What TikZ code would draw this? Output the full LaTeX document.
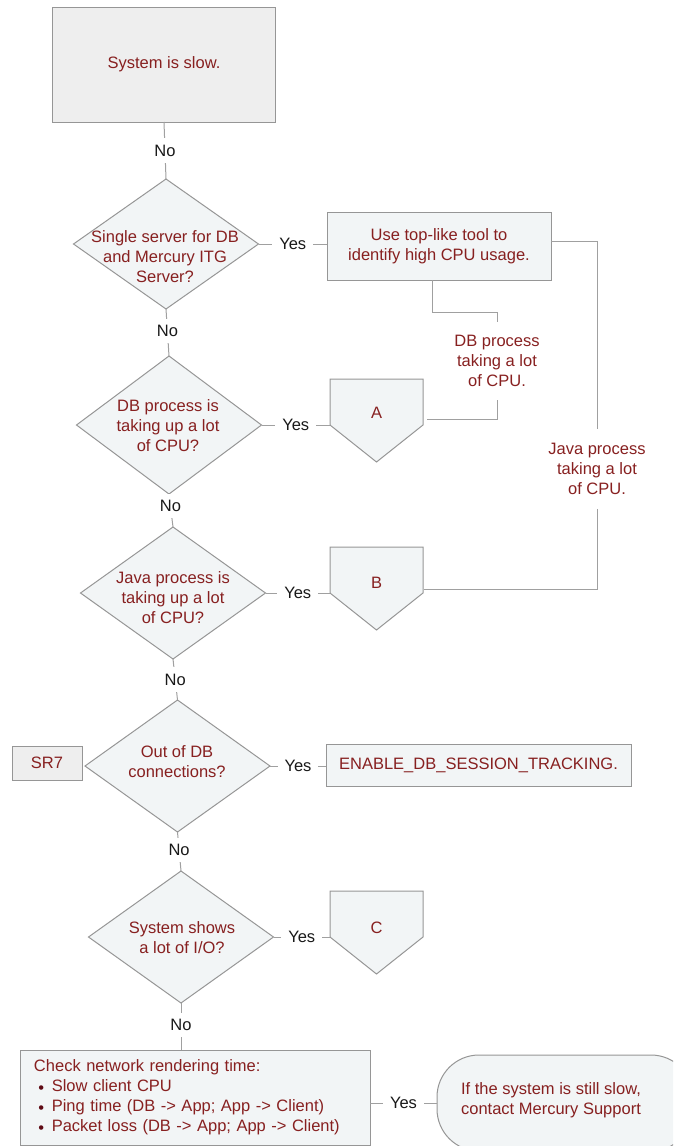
\documentclass[tikz,border=0pt]{standalone}
\usepackage{fontspec}
\setmainfont{Liberation Sans}
\usetikzlibrary{shapes.geometric}

\definecolor{ink}{RGB}{135,32,32}
\definecolor{dotink}{RGB}{95,10,20}
\definecolor{edge}{RGB}{150,150,150}
\definecolor{wire}{RGB}{160,160,160}
\definecolor{paleblue}{RGB}{242,245,246}
\definecolor{palegray}{RGB}{238,238,238}
\definecolor{labelink}{RGB}{25,25,25}

\newcommand{\netitem}{\hspace*{4.5pt}\raisebox{-2pt}{\textcolor{dotink}{\textbullet}}\hspace{7.5pt}}

\begin{document}
\begin{tikzpicture}[x=1pt,y=-1pt,
  every node/.style={font=\fontsize{16.5}{20}\selectfont, outer sep=0pt},
  box/.style={draw=edge, line width=1pt, fill=paleblue, text=ink, align=center, inner sep=0pt},
  graybox/.style={box, fill=palegray},
  decision/.style={diamond, draw=edge, line width=1pt, fill=paleblue, inner sep=0pt,
    minimum width=185pt, minimum height=132pt},
  qtext/.style={text=ink, align=center, inner sep=0pt},
  flag/.style={rectangle, draw=none, minimum width=93pt, minimum height=83pt, inner sep=0pt},
  flagline/.style={draw=edge, line width=1pt, fill=paleblue, line join=miter},
  conn/.style={draw=wire, line width=1pt},
  ans/.style={fill=white, text=labelink, inner xsep=7pt, inner ysep=6.5pt},
]
\useasboundingbox (0,0) rectangle (673,1146);
\clip (0,0) rectangle (673,1146);

% --- main column of checks ---
\node[graybox, minimum width=223pt, minimum height=115pt] (start) at (164,64.5) {System is slow.};

\node[decision, minimum height=130pt] (q1) at (166,244) {};
\node[qtext] (q1t) at (165,257) {Single server for DB\\and Mercury ITG\\Server?};

\node[decision, minimum height=138pt] (q2) at (169,425) {};
\node[qtext] (q2t) at (168,426) {DB process is\\taking up a lot\\of CPU?};

\node[decision] (q3) at (173,593) {};
\node[qtext] (q3t) at (173,598) {Java process is\\taking up a lot\\of CPU?};

\node[decision] (q4) at (177.5,766) {};
\node[qtext] (q4t) at (177,762) {Out of DB\\connections?};

\node[decision] (q5) at (181,937) {};
\node[qtext] (q5t) at (182,938) {System shows\\a lot of I/O?};

\node[box, minimum width=350pt, minimum height=95pt, text width=322pt, align=left,
      inner xsep=14pt] (net) at (195,1097.5)
  {Check network rendering time:\\
   \netitem Slow client CPU\\
   \netitem Ping time (DB -> App; App -> Client)\\
   \netitem Packet loss (DB -> App; App -> Client)};

% --- actions on the right ---
\node[box, minimum width=224pt, minimum height=68pt] (top) at (439,246)
  {Use top-like tool to\\identify high CPU usage.};

\node[flag] (A) at (376.5,420.5) {};
\path[flagline] (A.north west) -- (A.north east) -- ([yshift=37pt]A.south east)
  -- (A.south) -- ([yshift=37pt]A.south west) -- cycle;
\node[qtext] (At) at ([yshift=-34pt]A.north) {A};

\node[flag] (B) at (376.5,588.5) {};
\path[flagline] (B.north west) -- (B.north east) -- ([yshift=37pt]B.south east)
  -- (B.south) -- ([yshift=37pt]B.south west) -- cycle;
\node[qtext] (Bt) at ([yshift=-36pt]B.north) {B};

\node[flag] (C) at (376.5,932.5) {};
\path[flagline] (C.north west) -- (C.north east) -- ([yshift=37pt]C.south east)
  -- (C.south) -- ([yshift=37pt]C.south west) -- cycle;
\node[qtext] (Ct) at ([yshift=-37pt]C.north) {C};

\node[graybox, minimum width=70pt, minimum height=34pt] (sr7) at (47,763) {SR7};
\node[box, minimum width=305pt, minimum height=42pt] (enable) at (478.5,765)
  {ENABLE\_DB\_SESSION\_TRACKING.};

\node[box, rounded corners=42pt, minimum width=256pt, minimum height=96pt] (support) at (565,1103) {};
\node[qtext] (supportt) at (551,1100) {If the system is still slow,\\contact Mercury Support};

% --- labels on the branches from the CPU tool ---
\node[qtext, inner ysep=13.5pt] (dbload) at (497,361) {DB process\\taking a lot\\of CPU.};
\node[qtext, inner ysep=14pt] (javaload) at (597,469) {Java process\\taking a lot\\of CPU.};

% --- "No" path down the column ---
\draw[conn] (start.south) -- node[ans] {No} (q1.north);
\draw[conn] (q1.south) -- node[ans, pos=0.47] {No} (q2.north);
\draw[conn] (q2.south) -- node[ans, pos=0.36] {No} (q3.north);
\draw[conn] (q3.south) -- node[ans] {No} (q4.north);
\draw[conn] (q4.south) -- node[ans, pos=0.46] {No} (q5.north);
\draw[conn] (q5.south) -- node[ans, pos=0.47] {No} (q5.south |- net.north);

% --- "Yes" branches ---
\draw[conn] (q1.east) -- node[ans] {Yes} (q1.east -| top.west);
\draw[conn] (q2.east) -- node[ans] {Yes} ([yshift=37pt]A.south west);
\draw[conn] (q3.east) -- node[ans] {Yes} ([yshift=37pt]B.south west);
\draw[conn] (q4.east) -- node[ans] {Yes} (q4.east -| enable.west);
\draw[conn] (q5.east) -- node[ans] {Yes} ([yshift=37pt]C.south west);
\draw[conn] (support.west -| net.east) -- node[ans] {Yes} (support.west);

% --- results of the CPU tool ---
\draw[conn] ([xshift=-7pt]top.south) |- ([yshift=9pt]dbload.north) -- (dbload.north);
\draw[conn] (dbload.south) |- ([xshift=4pt,yshift=43pt]A.south east);
\draw[conn] ([yshift=5pt]top.east) -| (javaload.north);
\draw[conn] (javaload.south) |- ([xshift=1pt,yshift=41pt]B.south east);
\end{tikzpicture}
\end{document}
